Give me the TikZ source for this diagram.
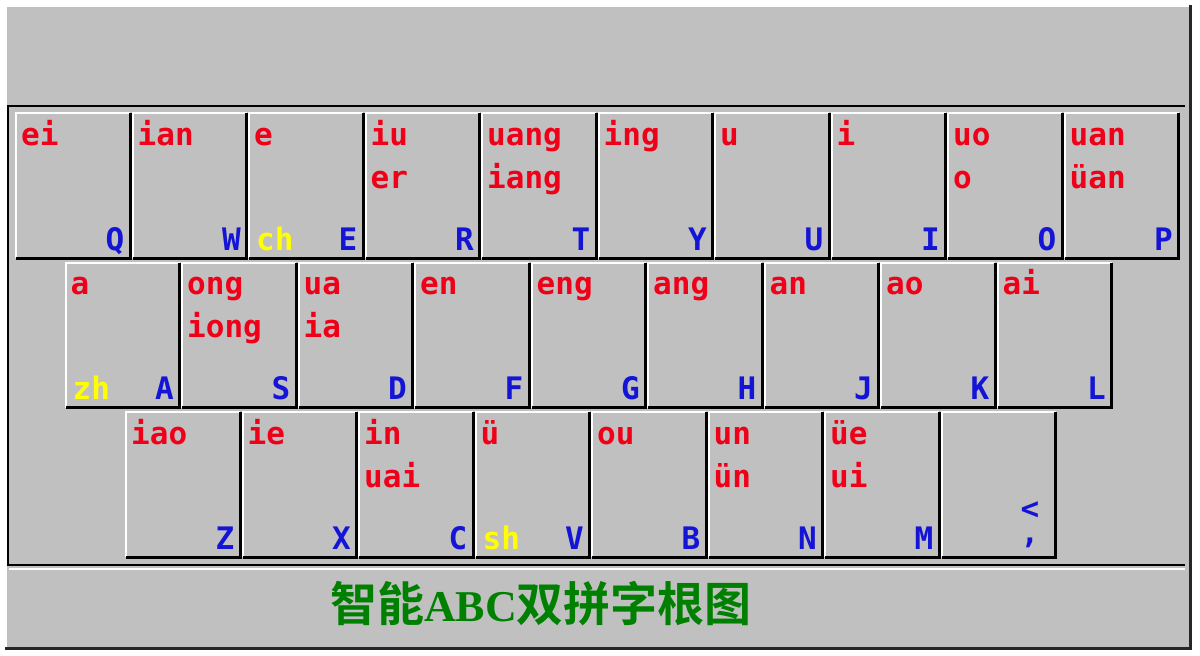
\documentclass[tikz,border=0pt]{standalone}
\usepackage{fontspec}
\usepackage{tikz}
\usetikzlibrary{positioning}
\newfontfamily\keyfont{DejaVu Sans Mono}
\newfontfamily\cjk{Noto Sans CJK SC}[BoldFont={Noto Sans CJK SC Bold}]
\newfontfamily\abcfont{Liberation Serif}
\definecolor{keygray}{RGB}{192,192,192}
\definecolor{pyred}{RGB}{240,0,24}
\definecolor{keyblue}{RGB}{20,20,215}
\definecolor{shyellow}{RGB}{255,255,0}
\definecolor{titlegreen}{RGB}{0,128,0}

\tikzset{
  keycap/.style={anchor=north west,minimum width=114pt,minimum height=145pt,inner sep=0pt,fill=keygray},
  hilite/.style={white,line width=2pt},
  keyshade/.style={black,line width=3pt},
  pinyin/.style={anchor=base west,inner sep=0pt,text=pyred,font=\keyfont\bfseries\fontsize{31}{31}\selectfont},
  keyletter/.style={anchor=base east,inner sep=0pt,text=keyblue,font=\keyfont\bfseries\fontsize{31}{31}\selectfont},
  initial/.style={anchor=base west,inner sep=0pt,text=shyellow,font=\keyfont\bfseries\fontsize{31}{31}\selectfont}
}

\begin{document}
\begin{tikzpicture}[x=1pt,y=-1pt]
\useasboundingbox (0,0) rectangle (1200,656);
\fill[white] (0,0) rectangle (1200,656);
% window
\fill[keygray] (5,5) rectangle (1190,648);
\draw[white,line width=3pt] (5,648) -- (5,5) -- (1190,5);
\draw[black!85,line width=3pt] (1190,5) -- (1190,648) -- (5,648);
% keyboard frame
\draw[line width=2.5pt] (1185,106) -- (8,106) -- (8,565) -- (1185,565);
\draw[white,line width=2pt] (9,568.5) -- (1185,568.5);

% three rows of keys
\foreach \row/\x/\y/\keys in {
    1/16/113/{Q/ei,W/ian,E/e,R/iu,T/uang,Y/ing,U/u,I/i,O/uo,P/uan},
    2/65.5/262.5/{A/a,S/ong,D/ua,F/en,G/eng,H/ang,J/an,K/ao,L/ai},
    3/126/412/{Z/iao,X/ie,C/in,V/ü,B/ou,N/un,M/üe}}
  \foreach \k/\a [count=\i from 0] in \keys {
    \node[keycap] (\k) at (\x+116.5*\i,\y) {};
    \draw[hilite] (\k.south west) -- (\k.north west) -- (\k.north east);
    \draw[keyshade] (\k.north east) -- (\k.south east) -- (\k.south west);
    \node[keyletter] (\k-key) at ([xshift=-6pt,yshift=8pt]\k.south east) {\k};
    \node[pinyin] (\k-1) at ([xshift=5pt,yshift=-32pt]\k.north west) {\a};
  }
% second finals
\foreach \k/\b in {R/er,T/iang,O/o,P/üan,S/iong,D/ia,C/uai,N/ün,M/ui}
  \node[pinyin] (\k-2) at ([xshift=5pt,yshift=-75pt]\k.north west) {\b};
% initials
\foreach \k/\c in {E/ch,A/zh,V/sh}
  \node[initial] (\k-init) at ([xshift=7pt,yshift=8pt]\k.south west) {\c};

% comma key
\node[keycap] (comma) at (126+116.5*7,412) {};
\draw[hilite] (comma.south west) -- (comma.north west) -- (comma.north east);
\draw[keyshade] (comma.north east) -- (comma.south east) -- (comma.south west);
\node[keyletter,anchor=base,align=center,font=\keyfont\bfseries\fontsize{31}{24}\selectfont]
  (comma-key) at ([xshift=-26pt,yshift=14pt]comma.south east) {<\\,};

\node[text=titlegreen,inner sep=0pt] (title) at (541,604)
  {\cjk\bfseries\fontsize{47}{47}\selectfont 智能{\abcfont\fontsize{44}{44}\selectfont ABC}双拼字根图};
\end{tikzpicture}
\end{document}
